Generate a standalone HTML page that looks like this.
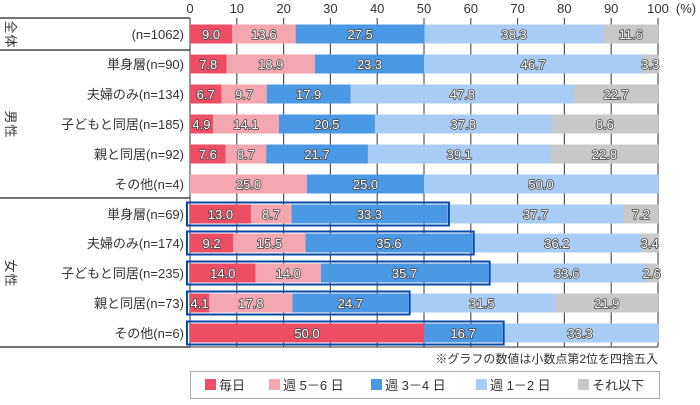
<!DOCTYPE html>
<html><head><meta charset="utf-8"><style>
body{margin:0;background:#fff}
svg text{font-family:"Liberation Sans","Noto Sans CJK JP",sans-serif}
.v{font-size:13px;fill:#fff;stroke:#444;stroke-width:1.6px;paint-order:stroke;stroke-linejoin:round}
</style></head><body>
<svg id="s" width="700" height="400" xmlns="http://www.w3.org/2000/svg"></svg>
<script>
const s=document.getElementById('s');let h='';
const X0=190,K=4.68;
const cols=['#ee4e63','#f5a7b1','#4b98e4','#a8ccf3','#c8c8c8'];
const rows=[
['(n=1062)',[9.0,13.6,27.5,38.3,11.6],34],
['単身層(n=90)',[7.8,18.9,23.3,46.7,3.3],64],
['夫婦のみ(n=134)',[6.7,9.7,17.9,47.8,22.7],94],
['子どもと同居(n=185)',[4.9,14.1,20.5,37.8,8.6],124],
['親と同居(n=92)',[7.6,8.7,21.7,39.1,22.8],154],
['その他(n=4)',[0,25.0,25.0,50.0,0],184],
['単身層(n=69)',[13.0,8.7,33.3,37.7,7.2],214,1],
['夫婦のみ(n=174)',[9.2,15.5,35.6,36.2,3.4],243,1],
['子どもと同居(n=235)',[14.0,14.0,35.7,33.6,2.6],273,1],
['親と同居(n=73)',[4.1,17.8,24.7,31.5,21.9],303,1],
['その他(n=6)',[50.0,0,16.7,33.3,0],333,1]];
for(let i=0;i<=10;i++){const x=X0+i*46.8;h+=`<line x1="${x}" y1="18" x2="${x}" y2="347" stroke="#555" stroke-width="1.2"/>`;
h+=`<text x="${x}" y="13" font-size="13" fill="#333" text-anchor="middle">${i*10}</text>`;}
h+=`<text x="686" y="13" font-size="13" fill="#333" text-anchor="middle">(%)</text>`;
let t='';
rows.forEach(r=>{let c=0;const y=r[2];let last=-1;r[1].forEach((v,j)=>{if(v)last=j;});
r[1].forEach((v,j)=>{if(!v)return;let end=Math.min(100,c+v);if(j===last)end=100;const x=X0+c*K,w=(end-c)*K;
h+=`<rect x="${x}" y="${y-9.5}" width="${w+0.3}" height="19" fill="${cols[j]}"/>`;
t+=`<text class="v" x="${x+w/2}" y="${y+5}" text-anchor="middle">${v.toFixed(1)}</text>`;c=end;});
if(r[3]){const e=X0+(r[1][0]+r[1][1]+r[1][2])*K;
t+=`<rect x="187" y="${y-11.5}" width="${e-187+1.5}" height="23" fill="none" stroke="#0a48a8" stroke-width="2"/>`;}
h+=`<text x="184" y="${y+5}" font-size="13" fill="#333" text-anchor="end">${r[0]}</text>`;});
h+=t;
[18,50,198,347].forEach(a=>h+=`<line x1="0" y1="${a}" x2="190" y2="${a}" stroke="#222" stroke-width="1.2"/>`);
h+=`<line x1="190" y1="347" x2="658" y2="347" stroke="#555" stroke-width="1.2"/>`;
function vt(x,y,str){[...str].forEach((ch,k)=>{h+=`<text x="0" y="0" font-size="13" fill="#333" text-anchor="middle" transform="translate(${x},${y+k*14}) rotate(90)">${ch}</text>`;});}
vt(6,27,'全体');vt(6,117,'男性');vt(6,266,'女性');
h+=`<text x="658" y="363" font-size="12" fill="#333" text-anchor="end">※グラフの数値は小数点第2位を四捨五入</text>`;
h+=`<rect x="190.5" y="371.5" width="469" height="27" fill="#fff" stroke="#aaa"/>`;
const lg=[['毎日',205],['週 5－6 日',269],['週 3－4 日',371],['週 1－2 日',476],['それ以下',578]];
lg.forEach((l,i)=>{h+=`<rect x="${l[1]}" y="379" width="11" height="11" fill="${cols[i]}"/><text x="${l[1]+14}" y="390" font-size="13" fill="#333">${l[0]}</text>`;});
s.innerHTML=h;
</script>
</body></html>
